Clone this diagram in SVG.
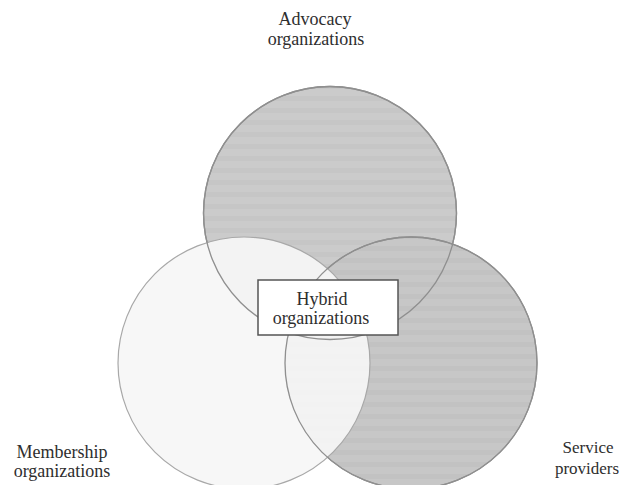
<svg xmlns="http://www.w3.org/2000/svg" width="620" height="485" viewBox="0 0 620 485">
  <defs>
    <pattern id="stripes" width="10" height="12" patternUnits="userSpaceOnUse">
      <rect width="10" height="12" fill="#cbcbcb"/>
      <rect y="0" width="10" height="5" fill="#c6c6c6"/>
    </pattern>
    <pattern id="stripes2" width="10" height="12" patternUnits="userSpaceOnUse">
      <rect width="10" height="12" fill="#c7c7c7"/>
      <rect y="6" width="10" height="5" fill="#c2c2c2"/>
    </pattern>
  </defs>
  <style>
    .lbl { font-family: "Liberation Serif", "Times New Roman", serif; font-size: 18px; fill: #2e2e2e; text-anchor: middle; }
    .sm { font-size: 17px; }
    .ring { fill: none; stroke: #8f8f8f; stroke-width: 1.3; }
  </style>
  <rect width="620" height="485" fill="#ffffff"/>

  <g id="advocacy">
    <circle cx="330" cy="213" r="126.5" fill="url(#stripes)" stroke="#8f8f8f" stroke-width="1.3"/>
    <text class="lbl" x="315" y="25">Advocacy</text>
    <text class="lbl" x="316" y="45">organizations</text>
  </g>

  <g id="service">
    <circle cx="411" cy="363" r="126" fill="url(#stripes2)" stroke="#8f8f8f" stroke-width="1.3"/>
    <text class="lbl sm" x="588" y="453">Service</text>
    <text class="lbl sm" x="587" y="474">providers</text>
  </g>

  <g id="membership">
    <circle cx="244" cy="363" r="126" fill="#f6f6f6" fill-opacity="0.92" stroke="#a8a8a8" stroke-width="1.2"/>
    <text class="lbl" x="62" y="458">Membership</text>
    <text class="lbl" x="62" y="477">organizations</text>
  </g>

  <g id="outlines">
    <circle class="ring" cx="330" cy="213" r="126.5"/>
    <circle class="ring" cx="411" cy="363" r="126"/>
  </g>

  <g id="hybrid">
    <rect x="258" y="280" width="140" height="55" fill="#ffffff" stroke="#555555" stroke-width="1.5"/>
    <text class="lbl" x="322" y="305">Hybrid</text>
    <text class="lbl" x="321" y="324">organizations</text>
  </g>
</svg>
